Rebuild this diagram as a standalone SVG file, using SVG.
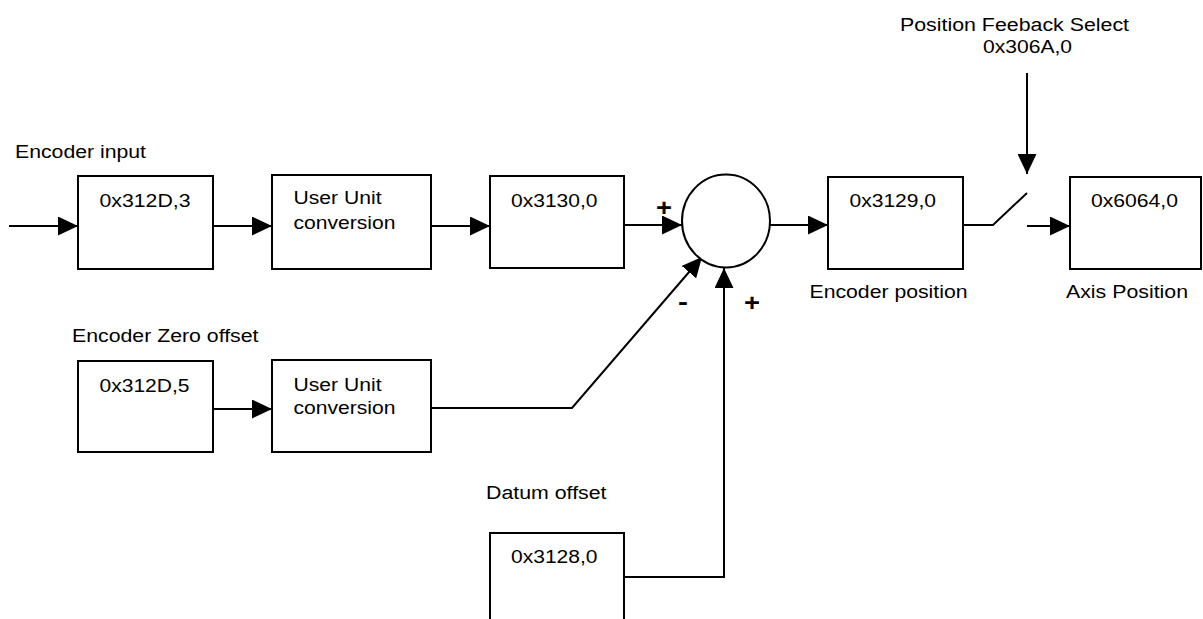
<svg xmlns="http://www.w3.org/2000/svg" width="1203" height="619" viewBox="0 0 1203 619">
<style>
.box{fill:#fff;stroke:#000;stroke-width:2}
.t{font-family:"Liberation Sans",Arial,sans-serif;font-size:18px;fill:#000}
.sign{font-family:"Liberation Sans",Arial,sans-serif;font-size:24px;font-weight:bold;fill:#000}
.c{fill:none;stroke:#000;stroke-width:2}
</style>
<defs>
<marker id="ah" markerUnits="userSpaceOnUse" markerWidth="20" markerHeight="19" refX="20" refY="9.5" orient="auto">
<path d="M0,0 L20,9.5 L0,19 z" fill="#000"/>
</marker>
</defs>
<rect width="1203" height="619" fill="#fff"/>
<g id="connectors">
<path class="c" d="M9,226 H78" marker-end="url(#ah)"/>
<path class="c" d="M213,226 H272" marker-end="url(#ah)"/>
<path class="c" d="M431,226 H490" marker-end="url(#ah)"/>
<path class="c" d="M624,225 H682" marker-end="url(#ah)"/>
<path class="c" d="M770,225 H828" marker-end="url(#ah)"/>
<path class="c" d="M963,225 H993 L1027,193"/>
<path class="c" d="M1027,73 V174" marker-end="url(#ah)"/>
<path class="c" d="M1027,226 H1070" marker-end="url(#ah)"/>
<path class="c" d="M213,409 H272" marker-end="url(#ah)"/>
<path class="c" d="M431,408 H572 L702,257" marker-end="url(#ah)"/>
<path class="c" d="M624,577 H724 V268" marker-end="url(#ah)"/>
</g>
<g id="n-encoder-input">
<text class="t" x="15" y="158" textLength="131" lengthAdjust="spacingAndGlyphs">Encoder input</text>
</g>
<g id="n-312D3">
<rect class="box" x="78" y="176" width="135" height="93"/>
<text class="t" x="99.5" y="207" textLength="91" lengthAdjust="spacingAndGlyphs">0x312D,3</text>
</g>
<g id="n-uuc1">
<rect class="box" x="272" y="175" width="159" height="94"/>
<text class="t" x="293.5" y="204" textLength="88" lengthAdjust="spacingAndGlyphs">User Unit</text>
<text class="t" x="293.5" y="229" textLength="102" lengthAdjust="spacingAndGlyphs">conversion</text>
</g>
<g id="n-3130">
<rect class="box" x="490" y="176" width="134" height="92"/>
<text class="t" x="511" y="207" textLength="86.5" lengthAdjust="spacingAndGlyphs">0x3130,0</text>
</g>
<g id="n-sum">
<ellipse class="box" cx="726" cy="221" rx="44" ry="46.5"/>
<text class="sign" x="656" y="216" textLength="16" lengthAdjust="spacingAndGlyphs">+</text>
<text class="sign" x="678" y="310" textLength="10" lengthAdjust="spacingAndGlyphs">-</text>
<text class="sign" x="744" y="311" textLength="16" lengthAdjust="spacingAndGlyphs">+</text>
</g>
<g id="n-3129">
<rect class="box" x="828" y="177" width="135" height="92"/>
<text class="t" x="849.5" y="207" textLength="86.5" lengthAdjust="spacingAndGlyphs">0x3129,0</text>
<text class="t" x="809.5" y="298" textLength="158" lengthAdjust="spacingAndGlyphs">Encoder position</text>
</g>
<g id="n-select">
<text class="t" x="900" y="31" textLength="229" lengthAdjust="spacingAndGlyphs">Position Feeback Select</text>
<text class="t" x="983" y="53" textLength="89" lengthAdjust="spacingAndGlyphs">0x306A,0</text>
</g>
<g id="n-6064">
<rect class="box" x="1070" y="177" width="131" height="92"/>
<text class="t" x="1091" y="207" textLength="87" lengthAdjust="spacingAndGlyphs">0x6064,0</text>
<text class="t" x="1066" y="298" textLength="122" lengthAdjust="spacingAndGlyphs">Axis Position</text>
</g>
<g id="n-zero-offset">
<text class="t" x="72" y="342" textLength="186.5" lengthAdjust="spacingAndGlyphs">Encoder Zero offset</text>
</g>
<g id="n-312D5">
<rect class="box" x="78" y="361" width="135" height="91"/>
<text class="t" x="99.5" y="392" textLength="90" lengthAdjust="spacingAndGlyphs">0x312D,5</text>
</g>
<g id="n-uuc2">
<rect class="box" x="272" y="360" width="159" height="92"/>
<text class="t" x="293.5" y="391" textLength="88" lengthAdjust="spacingAndGlyphs">User Unit</text>
<text class="t" x="293.5" y="414" textLength="102" lengthAdjust="spacingAndGlyphs">conversion</text>
</g>
<g id="n-datum">
<text class="t" x="486" y="499" textLength="120.5" lengthAdjust="spacingAndGlyphs">Datum offset</text>
<rect class="box" x="490" y="533" width="134" height="100"/>
<text class="t" x="511" y="563" textLength="86.5" lengthAdjust="spacingAndGlyphs">0x3128,0</text>
</g>
</svg>
